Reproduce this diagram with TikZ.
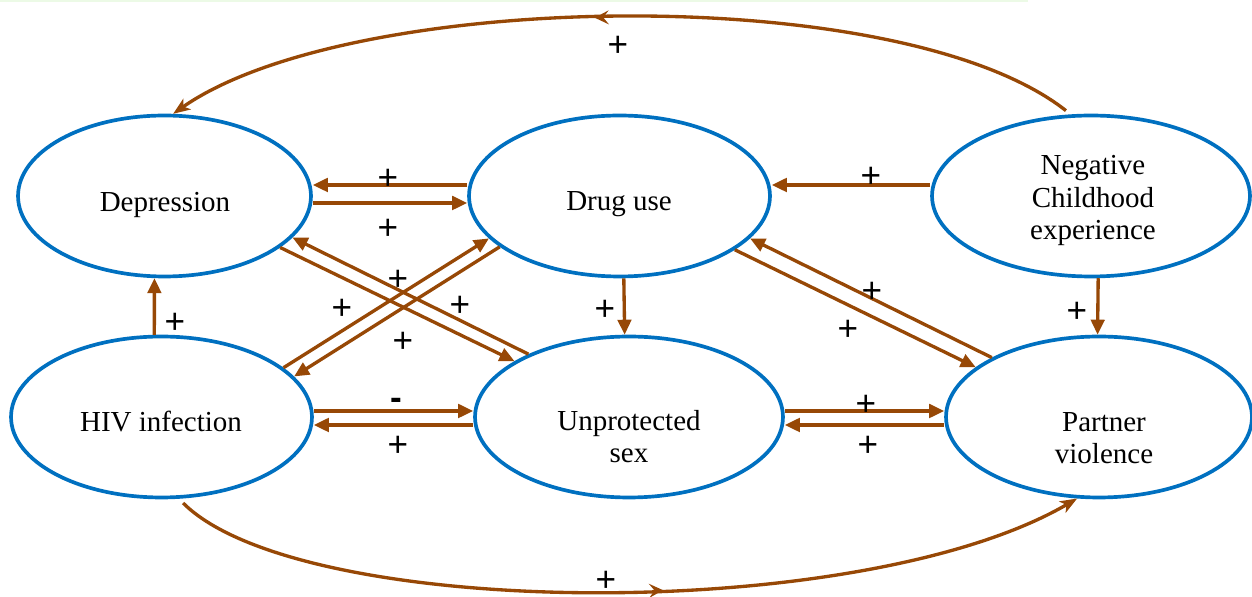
\documentclass[tikz,border=0pt]{standalone}
\usepackage{fontspec}
\setmainfont{Liberation Serif}
\newfontfamily\signfont{Liberation Sans}
\usetikzlibrary{shapes.geometric,arrows.meta,calc,decorations.markings}
\definecolor{ovalblue}{RGB}{0,112,192}
\definecolor{linkbrown}{RGB}{151,72,6}
\definecolor{edgegreen}{RGB}{236,250,230}
\tikzset{
  oval/.style={ellipse, draw=ovalblue, line width=2.1pt, inner sep=0pt, minimum height=3.22cm},
  txt/.style={font=\fontsize{16.5}{18.7}\selectfont, align=center, anchor=base, inner sep=0pt},
  arrowline/.style={color=linkbrown, line width=1.9pt, -{Triangle[length=0.3cm,width=0.27cm]}},
  curvelink/.style={color=linkbrown, line width=1.9pt, -{Stealth[length=0.34cm,width=0.26cm,inset=0.09cm]},
    postaction={decorate}, decoration={markings, mark=at position #1 with {\arrow{Stealth[length=0.28cm,width=0.28cm,inset=0.11cm]}}}},
  sign/.style={font=\signfont\fontsize{20}{20}\selectfont, inner sep=0pt}
}
\begin{document}
\begin{tikzpicture}[x=0.02cm, y=-0.02cm]
\useasboundingbox (0,0) rectangle (1252,597);
\draw[edgegreen, line width=1.5pt] (0,1) -- (1028,1);

\node[oval, minimum width=5.86cm] (dep) at (164.5,196) {};
\node[oval, minimum width=6.02cm] (drug) at (619.5,196) {};
\node[oval, minimum width=6.36cm] (nce) at (1091,196) {};
\node[oval, minimum width=6.02cm] (hiv) at (161.5,417) {};
\node[oval, minimum width=6.16cm] (unsafe) at (629,417) {};
\node[oval, minimum width=6.12cm] (ipv) at (1099,417) {};

\node[txt] (deptxt) at (165,212) {Depression};
\node[txt] (drugtxt) at (619,211) {Drug use};
\node[txt] (ncetxt) at (1093,240) {Negative\\Childhood\\experience};
\node[txt] (hivtxt) at (161,432) {HIV infection};
\node[txt] (unsafetxt) at (629,463) {Unprotected\\sex};
\node[txt] (ipvtxt) at (1104,464) {Partner\\violence};

\draw[arrowline] ($(drug.west)+(0,-11)$) -- ($(dep.east)+(0,-11)$);
\draw[arrowline] ($(dep.east)+(0,7)$) -- ($(drug.west)+(0,7)$);
\draw[arrowline] ($(nce.west)+(0,-11)$) -- ($(drug.east)+(0,-11)$);
\draw[arrowline] ($(hiv.east)+(0,-6)$) -- ($(unsafe.west)+(0,-6)$);
\draw[arrowline] ($(unsafe.west)+(0,8)$) -- ($(hiv.east)+(0,8)$);
\draw[arrowline] ($(unsafe.east)+(0,-6)$) -- ($(ipv.west)+(0,-6)$);
\draw[arrowline] ($(ipv.west)+(0,8)$) -- ($(unsafe.east)+(0,8)$);

\draw[arrowline] (hiv.95) -- (dep.-97);
\draw[arrowline] (drug.-87) -- (unsafe.93);
\draw[arrowline] (nce.-85) -- (ipv.91);

\draw[arrowline] (dep.-24) -- (unsafe.154);
\draw[arrowline] (unsafe.148) -- (dep.-18);
\draw[arrowline] (hiv.22) -- (drug.-162);
\draw[arrowline] (drug.-157) -- (hiv.17);
\draw[arrowline] (drug.-25) -- (ipv.158);
\draw[arrowline] (ipv.151) -- (drug.-18);

\draw[curvelink=0.53, shorten <=0.12cm] (nce.104) .. controls (900,-20) and (350,-10) .. (dep.84);
\draw[curvelink=0.54, shorten <=0.12cm] (hiv.-78) .. controls (300,620) and (860,625) .. (ipv.-105);

\foreach \x/\y [count=\i] in {618/46, 388/179, 388/229, 871/177, 175/323, 398/280, 342/309, 460/306,
  403/342, 605/310, 872/292, 848/330, 1077/312, 398/446, 866/405, 868/446, 606/581}
  \node[sign] (plus\i) at (\x,\y) {+};
\node[sign] (minus) at (396,404) {\textbf{-}};
\end{tikzpicture}
\end{document}
